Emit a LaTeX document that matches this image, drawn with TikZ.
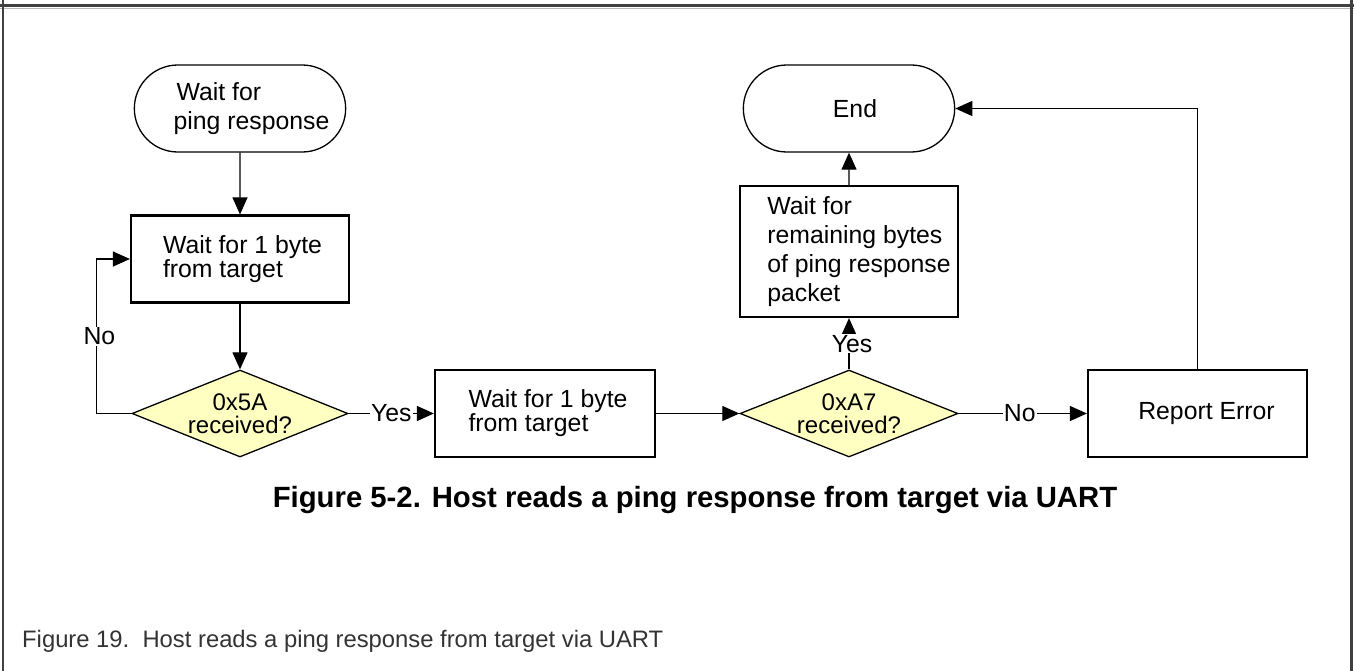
\documentclass[tikz,border=0pt]{standalone}
\usepackage{fontspec}
\setmainfont{Liberation Sans}
\usepackage{tikz}
\usetikzlibrary{arrows.meta,shapes.geometric,shapes.misc,positioning,calc}
\definecolor{decfill}{RGB}{255,255,194}
\definecolor{framegray}{RGB}{64,64,64}
\definecolor{capgray}{RGB}{51,51,51}
\tikzset{
        block/.style = {draw, rectangle, line width=2.2pt,
            minimum height=87pt,
            minimum width=218pt, align=left},
        term/.style = {draw, rounded rectangle, line width=1.3pt,
            minimum height=87pt,
            minimum width=218pt, align=left},
        decision/.style = {draw, diamond, fill=decfill, line width=1.3pt,
            aspect=2.47, inner sep=0pt,
            minimum height=87pt,
            minimum width=216pt, align=center,
            font=\fontsize{24}{23}\selectfont},
        arrow/.style = {draw, line width=1.2pt, -{Triangle[length=17pt,width=15pt]}},
        lbl/.style = {fill=white, inner sep=1pt},
    }

\begin{document}
\begin{tikzpicture}[x=1pt, y=-1pt, font=\fontsize{24.8}{29}\selectfont]
		\useasboundingbox (0,0) rectangle (1354,671);
		% page frame
		\fill[framegray] (0,4) rectangle (1354,7.5);
		\draw[gray!55, line width=1.2pt] (0,8.8) -- (1354,8.8);
		\draw[framegray, line width=2.5pt] (3,0) -- (3,671);
		\draw[framegray, line width=2.5pt] (1351.5,0) -- (1351.5,671);
		% flow chart
		\node[term]     (start) at (240,108.5)  {\hspace*{26pt}Wait for\\\hspace*{23pt}ping response};
		\node[block, font=\fontsize{24.8}{24}\selectfont]    (box1)  at (240,259)    {\hspace*{5pt}Wait for 1 byte\\\hspace*{5pt}from target};
		\node[decision] (dec1)  at (240,413.5)  {0x5A\\received?};
		\node[block, font=\fontsize{24.8}{24}\selectfont, minimum width=220pt]    (box2)  at (545,413.5)  {\hspace*{6pt}Wait for 1 byte\\\hspace*{6pt}from target};
		\node[decision, minimum width=218pt] (dec2)  at (849,413.5)  {0xA7\\received?};
		\node[block, minimum height=131pt]    (box3)  at (849,251.5)  {\hspace*{20pt}Wait for\\\hspace*{20pt}remaining bytes\\\hspace*{20pt}of ping response\\\hspace*{20pt}packet};
		\node[term]     (end)   at (849,108.5)  {\hspace*{12pt}End};
		\node[block, minimum width=219pt]    (err)   at (1197.5,413.5) {\hspace*{18pt}Report Error};
		\path[arrow] (start) -- (box1);
		\path[arrow] (box1) -- (dec1);
		\path[arrow] (dec1.west) -- ++(-35,0) |- node[lbl, pos=0.25, xshift=3pt] {No} (box1.west);
		\path[arrow] (dec1) -- node[lbl] {Yes} (box2);
		\path[arrow] (box2) -- (dec2);
		\path[arrow] (dec2) -- node[lbl, xshift=3pt] {Yes} (box3);
		\path[arrow] (box3) -- (end);
		\path[arrow] (dec2) -- node[lbl, xshift=-3pt] {No} (err);
		\path[arrow] (err) |- (end);
		% captions
		\node[anchor=base, font=\bfseries\fontsize{29.3}{34}\selectfont] (title) at (695,507) {Figure 5-2. Host reads a ping response from target via UART};
		\node[anchor=base west, inner sep=0pt, text=capgray, font=\fontsize{23.8}{28}\selectfont] (caption) at (22,647) {Figure 19.\ \ Host reads a ping response from target via UART};
\end{tikzpicture}
\end{document}
